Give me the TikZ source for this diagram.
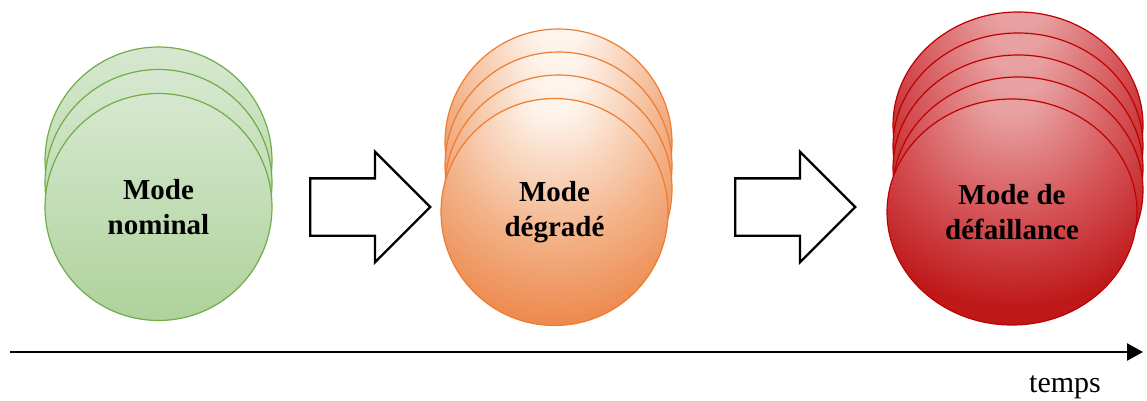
\documentclass[tikz,border=0pt]{standalone}
\usepackage{fontspec}
\setmainfont{Liberation Serif}
\usetikzlibrary{arrows.meta,shapes.geometric,shapes.arrows}

\definecolor{nomLine}{RGB}{112,173,71}
\definecolor{nomTop}{RGB}{214,232,208}
\definecolor{nomBot}{RGB}{174,210,155}
\definecolor{degLine}{RGB}{237,125,49}
\definecolor{degLight}{RGB}{254,244,236}
\definecolor{degMid}{RGB}{243,178,136}
\definecolor{degDark}{RGB}{236,132,70}
\definecolor{defLine}{RGB}{192,0,0}
\definecolor{defLight}{RGB}{232,160,160}
\definecolor{defMid}{RGB}{212,82,86}
\definecolor{defDark}{RGB}{190,24,24}

\pgfdeclareradialshading{degShade}{\pgfpoint{0bp}{30bp}}{%
  color(0bp)=(degLight); color(6bp)=(degLight); color(25bp)=(degMid);
  color(40bp)=(degDark); color(70bp)=(degDark)}
\pgfdeclareradialshading{defShade}{\pgfpoint{0bp}{30bp}}{%
  color(0bp)=(defLight); color(6bp)=(defLight); color(22bp)=(defMid);
  color(36bp)=(defDark); color(70bp)=(defDark)}

\begin{document}
\begin{tikzpicture}[
  x=1pt, y=-1pt,
  mode/.style={
    ellipse, draw, line width=1.2pt,
    inner sep=0pt, minimum width=227pt, minimum height=227pt,
    font=\bfseries\fontsize{29}{35}\selectfont, align=center
  },
  nom/.style={mode, draw=nomLine, top color=nomTop, bottom color=nomBot},
  deg/.style={mode, draw=degLine, shading=degShade},
  def/.style={mode, draw=defLine, shading=defShade,
    minimum width=250pt, minimum height=226pt},
  blockarrow/.style={
    single arrow, draw, line width=2.4pt, fill=white, anchor=tail,
    inner sep=0pt, text width=0pt, text height=27.5pt, text depth=27.5pt,
    minimum height=120pt, single arrow head extend=26.5pt
  }
]
  \useasboundingbox (0,0) rectangle (1147,401);
  % nominal
  \foreach \n/\y in {1/160.5,2/183} {
    \node[nom] (nom\n) at (158.5,\y){};
  }
  \node[nom] (nom3) at (158.5,207){Mode\\nominal};
  % degrade
  \foreach \n/\y in {1/142.5,2/165.5,3/188.5} {
    \node[deg] (deg\n) at (558.5,\y){};
  }
  \node[deg] (deg4) at (554.5,212){Mode\\dégradé};
  % defaillance
  \foreach \n/\y in {1/125,2/146,3/168,4/190} {
    \node[def] (def\n) at (1018,\y){};
  }
  \node[def] (def5) at (1012,212){Mode de\\défaillance};
  % transitions
  \node[blockarrow] (arr1) at (309,207){};
  \node[blockarrow] (arr2) at (734,207){};
  % time axis
  \coordinate (t0) at (10,352);
  \coordinate (t1) at (1143,352);
  \draw[line width=2.5pt, -{Triangle[length=16pt,width=17pt]}] (t0)--(t1);
  \node[font=\fontsize{30}{36}\selectfont] (temps) at (1065,387){temps};
\end{tikzpicture}
\end{document}
